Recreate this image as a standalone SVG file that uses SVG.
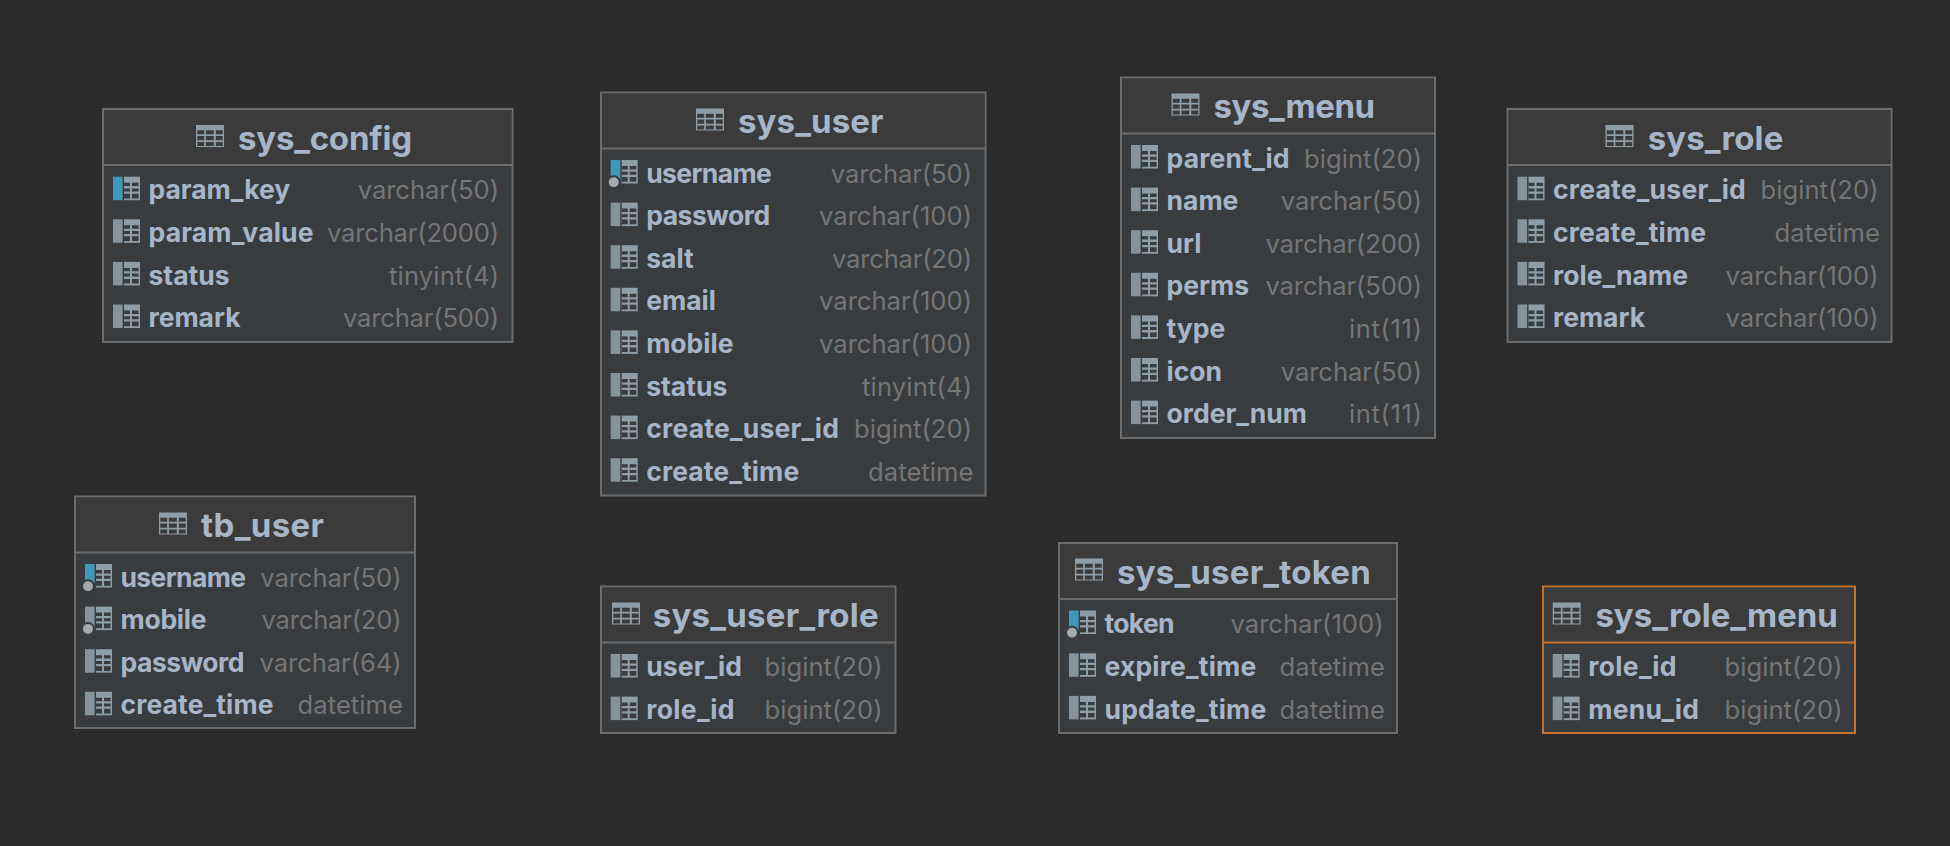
<svg xmlns="http://www.w3.org/2000/svg" width="1950" height="846" viewBox="0 0 1950 846">
<style>
.card{fill:#393c3f;stroke:#6c6c6c;stroke-width:2}
.head{fill:#3c3b3b}
.rule{stroke:#6c6c6c;stroke-width:2;fill:none}
.sel .card{stroke:#c4742e}
.sel .rule{stroke:#c4742e}
text{font-family:Inter,"Noto Sans","Liberation Sans",sans-serif}
.title{font-size:33px;font-weight:700;fill:#a7b5c6}
.name{font-size:26.500px;font-weight:700;fill:#a7b5c6}
.type{font-size:25.600px;font-weight:400;fill:#757575;text-anchor:end;transform:translate(1.500px,0.400px)}
.ic{fill:#8f9da6}
.dk{fill:#393c3f}
.hdk{fill:#3c3b3b}
.bar{fill:#87939a}
.pk{fill:#3f97b9}
.dot{fill:#a2a9af;stroke:#393c3f;stroke-width:2}
</style>
<defs>
<g id="hicon">
<rect class="ic" width="28" height="22"/>
<path class="hdk" d="M1.300 5.300h6.900v4h-6.900zM9.900 5.300h7.900v4h-7.900zM19.800 5.300h6.900v4h-6.900zM1.300 11h6.900v4.300h-6.900zM9.900 11h7.900v4.300h-7.900zM19.800 11h6.900v4.300h-6.900zM1.300 17h6.900v4h-6.900zM9.900 17h7.900v4h-7.900zM19.800 17h6.900v4h-6.900z"/>
</g>
<g id="tile">
<rect class="ic" x="11" width="16" height="23.500"/>
<path class="dk" d="M11 6h6v3.400h-6zM19 6h6.600v3.400h-6.600zM11 11.700h6v3h-6zM19 11.700h6.600v3h-6.600zM11 17h6v4.700h-6zM19 17h6.600v4.700h-6.600z"/>
</g>
<g id="col"><rect class="bar" width="9.600" height="23.500"/><use href="#tile"/></g>
<g id="key"><rect class="pk" width="9.600" height="23.500"/><use href="#tile"/></g>
<g id="ukey"><rect class="pk" width="9.600" height="23.500"/><use href="#tile"/><circle class="dot" cx="3" cy="22.300" r="6"/></g>
<g id="idx"><rect class="bar" width="9.600" height="23.500"/><use href="#tile"/><circle class="dot" cx="3" cy="22.300" r="6"/></g>
</defs>
<rect width="1950" height="846" fill="#2b2b2b"/>
<g id="connectors"/>

<g id="sys_config">
<rect class="card" x="103" y="109" width="409.500" height="233"/>
<rect class="head" x="104" y="110" width="407.500" height="55"/>
<path class="rule" d="M103 165H512.500"/>
<use href="#hicon" x="196" y="125"/>
<text class="title" x="238" y="149.500" textLength="174">sys_config</text>
<use href="#key" x="113" y="176.700"/><text class="name" x="148.500" y="199.300" textLength="141.800">param_key</text><text class="type" x="497.500" y="199" textLength="141.300">varchar(50)</text>
<use href="#col" x="113" y="219.300"/><text class="name" x="148.500" y="241.900" textLength="165">param_value</text><text class="type" x="497.500" y="241.600" textLength="172">varchar(2000)</text>
<use href="#col" x="113" y="261.900"/><text class="name" x="148.500" y="284.800">status</text><text class="type" x="497.500" y="284.500" textLength="110">tinyint(4)</text>
<use href="#col" x="113" y="304.500"/><text class="name" x="148.500" y="327.100">remark</text><text class="type" x="497.500" y="326.800" textLength="156">varchar(500)</text>
</g>

<g id="sys_user">
<rect class="card" x="601" y="92.500" width="384.500" height="403"/>
<rect class="head" x="602" y="93.500" width="382.500" height="54.500"/>
<path class="rule" d="M601 148.500H985.500"/>
<use href="#hicon" x="696" y="108.500"/>
<text class="title" x="738" y="133" textLength="145.500">sys_user</text>
<use href="#ukey" x="610.700" y="160"/><text class="name" x="646.200" y="182.600" textLength="125.600">username</text><text class="type" x="970.500" y="182.300" textLength="141.300">varchar(50)</text>
<use href="#col" x="610.700" y="202.600"/><text class="name" x="646.200" y="225.200" textLength="124">password</text><text class="type" x="970.500" y="224.900" textLength="153">varchar(100)</text>
<use href="#col" x="610.700" y="245.200"/><text class="name" x="646.200" y="267.800">salt</text><text class="type" x="970.500" y="267.500" textLength="140">varchar(20)</text>
<use href="#col" x="610.700" y="287.800"/><text class="name" x="646.200" y="310.400">email</text><text class="type" x="970.500" y="310.100" textLength="153">varchar(100)</text>
<use href="#col" x="610.700" y="330.400"/><text class="name" x="646.200" y="353">mobile</text><text class="type" x="970.500" y="352.700" textLength="153">varchar(100)</text>
<use href="#col" x="610.700" y="373"/><text class="name" x="646.200" y="395.600">status</text><text class="type" x="970.500" y="395.300" textLength="110">tinyint(4)</text>
<use href="#col" x="610.700" y="415.600"/><text class="name" x="646.200" y="438.200" textLength="192.800">create_user_id</text><text class="type" x="970.500" y="437.900" textLength="118">bigint(20)</text>
<use href="#col" x="610.700" y="458.200"/><text class="name" x="646.200" y="480.800" textLength="153">create_time</text><text class="type" x="972" y="480.500" textLength="105.500">datetime</text>
</g>

<g id="sys_menu">
<rect class="card" x="1121" y="77.500" width="314" height="360.500"/>
<rect class="head" x="1122" y="78.500" width="312" height="54.500"/>
<path class="rule" d="M1121 133.500H1435"/>
<use href="#hicon" x="1171.500" y="93.500"/>
<text class="title" x="1213.400" y="118" textLength="161.700">sys_menu</text>
<use href="#col" x="1131" y="145"/><text class="name" x="1166.500" y="167.600" textLength="123">parent_id</text><text class="type" x="1420.500" y="167.300" textLength="118">bigint(20)</text>
<use href="#col" x="1131" y="187.600"/><text class="name" x="1166.500" y="210.200">name</text><text class="type" x="1420.500" y="209.900" textLength="141.300">varchar(50)</text>
<use href="#col" x="1131" y="230.200"/><text class="name" x="1166.500" y="252.800">url</text><text class="type" x="1420.500" y="252.500" textLength="156.500">varchar(200)</text>
<use href="#col" x="1131" y="272.800"/><text class="name" x="1166.500" y="295.400">perms</text><text class="type" x="1420.500" y="295.100" textLength="156.500">varchar(500)</text>
<use href="#col" x="1131" y="315.400"/><text class="name" x="1166.500" y="338">type</text><text class="type" x="1420.500" y="337.700" textLength="73">int(11)</text>
<use href="#col" x="1131" y="358"/><text class="name" x="1166.500" y="380.600">icon</text><text class="type" x="1420.500" y="380.300" textLength="141.300">varchar(50)</text>
<use href="#col" x="1131" y="400.600"/><text class="name" x="1166.500" y="423.200" textLength="140.500">order_num</text><text class="type" x="1420.500" y="422.900" textLength="73">int(11)</text>
</g>

<g id="sys_role">
<rect class="card" x="1507.500" y="109" width="384" height="233"/>
<rect class="head" x="1508.500" y="110" width="382" height="55"/>
<path class="rule" d="M1507.500 165H1891.500"/>
<use href="#hicon" x="1605.500" y="125"/>
<text class="title" x="1647.700" y="149.500" textLength="135.600">sys_role</text>
<use href="#col" x="1517.500" y="176.700"/><text class="name" x="1553" y="199.300" textLength="192.800">create_user_id</text><text class="type" x="1877" y="199" textLength="118">bigint(20)</text>
<use href="#col" x="1517.500" y="219.300"/><text class="name" x="1553" y="241.900" textLength="153">create_time</text><text class="type" x="1878.500" y="241.600" textLength="105.500">datetime</text>
<use href="#col" x="1517.500" y="261.900"/><text class="name" x="1553" y="284.800" textLength="135">role_name</text><text class="type" x="1877" y="284.500" textLength="153">varchar(100)</text>
<use href="#col" x="1517.500" y="304.500"/><text class="name" x="1553" y="327.100">remark</text><text class="type" x="1877" y="326.800" textLength="153">varchar(100)</text>
</g>

<g id="tb_user">
<rect class="card" x="75" y="496.500" width="340" height="231.500"/>
<rect class="head" x="76" y="497.500" width="338" height="54.500"/>
<path class="rule" d="M75 552.500H415"/>
<use href="#hicon" x="159" y="512.500"/>
<text class="title" x="201" y="537" textLength="123">tb_user</text>
<use href="#ukey" x="85" y="564"/><text class="name" x="120.500" y="586.600" textLength="125.600">username</text><text class="type" x="400" y="586.300" textLength="141.300">varchar(50)</text>
<use href="#idx" x="85" y="606.600"/><text class="name" x="120.500" y="629.200" textLength="86">mobile</text><text class="type" x="400" y="628.900" textLength="140">varchar(20)</text>
<use href="#col" x="85" y="649.200"/><text class="name" x="120.500" y="671.800" textLength="124">password</text><text class="type" x="400" y="671.500" textLength="142">varchar(64)</text>
<use href="#col" x="85" y="691.800"/><text class="name" x="120.500" y="714.400" textLength="153">create_time</text><text class="type" x="401.500" y="714.100" textLength="105.500">datetime</text>
</g>

<g id="sys_user_role">
<rect class="card" x="601" y="586.500" width="294.500" height="146.500"/>
<rect class="head" x="602" y="587.500" width="292.500" height="54.500"/>
<path class="rule" d="M601 642.500H895.500"/>
<use href="#hicon" x="612" y="602.500"/>
<text class="title" x="652.700" y="627" textLength="226">sys_user_role</text>
<use href="#col" x="610.700" y="654"/><text class="name" x="646.200" y="676.300" textLength="95.800">user_id</text><text class="type" x="881" y="676" textLength="118">bigint(20)</text>
<use href="#col" x="610.700" y="696.600"/><text class="name" x="646.200" y="719.200" textLength="88.300">role_id</text><text class="type" x="881" y="718.900" textLength="118">bigint(20)</text>
</g>

<g id="sys_user_token">
<rect class="card" x="1059" y="543" width="338" height="190"/>
<rect class="head" x="1060" y="544" width="336" height="55"/>
<path class="rule" d="M1059 599H1397"/>
<use href="#hicon" x="1075" y="558.500"/>
<text class="title" x="1117" y="583.500" textLength="253.700">sys_user_token</text>
<use href="#ukey" x="1069" y="610.500"/><text class="name" x="1104.500" y="633.200" textLength="70">token</text><text class="type" x="1382" y="632.800" textLength="153">varchar(100)</text>
<use href="#col" x="1069" y="653.300"/><text class="name" x="1104.500" y="676" textLength="151.700">expire_time</text><text class="type" x="1383.500" y="675.700" textLength="105.500">datetime</text>
<use href="#col" x="1069" y="695.900"/><text class="name" x="1104.500" y="718.800" textLength="161.700">update_time</text><text class="type" x="1383.500" y="718.500" textLength="105.500">datetime</text>
</g>

<g id="sys_role_menu" class="sel">
<rect class="card" x="1543" y="586.500" width="312" height="146.500"/>
<rect class="head" x="1544" y="587.500" width="310" height="54.500"/>
<path class="rule" d="M1543 642.500H1855"/>
<use href="#hicon" x="1552.700" y="602.500"/>
<text class="title" x="1595.400" y="627" textLength="242.500">sys_role_menu</text>
<use href="#col" x="1552.700" y="654"/><text class="name" x="1588.200" y="676.300" textLength="88.300">role_id</text><text class="type" x="1841" y="676" textLength="118">bigint(20)</text>
<use href="#col" x="1552.700" y="696.600"/><text class="name" x="1588.200" y="719.200" textLength="110.700">menu_id</text><text class="type" x="1841" y="718.900" textLength="118">bigint(20)</text>
</g>
</svg>
